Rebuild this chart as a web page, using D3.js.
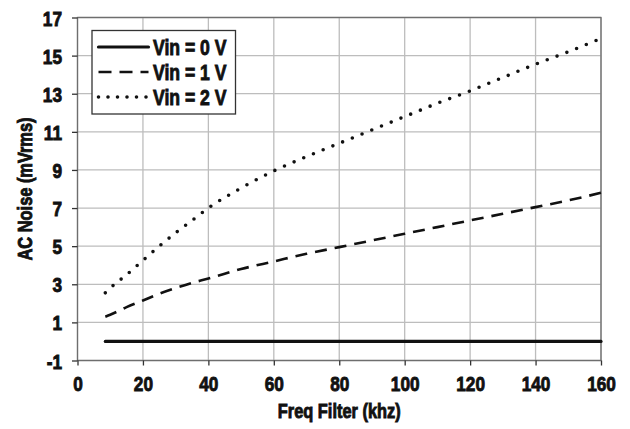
<!DOCTYPE html>
<html>
<head>
<meta charset="utf-8">
<script src="https://cdn.jsdelivr.net/npm/d3@7/dist/d3.min.js"></script>
<style>
  body { margin: 0; background: #fff; }
  svg { display: block; }
  text { font-family: "Liberation Sans", Arial, sans-serif; font-weight: 700; fill: #111; stroke: #111; stroke-width: 0.9px; }
</style>
</head>
<body>
<svg id="chart" width="630" height="429"></svg>
<script>
// values
const freq = [8.5, 10, 15, 20, 25, 30, 35, 40, 50, 60, 70, 80, 90, 100, 110, 120, 130, 140, 150, 160]
const vin0 = [0, 0, 0, 0, 0, 0, 0, 0, 0, 0, 0, 0, 0, 0, 0, 0, 0, 0, 0, 0]
const vin1 = [1.3, 1.4, 1.8, 2.15, 2.5, 2.8, 3.07, 3.3, 3.8, 4.2, 4.6, 4.95, 5.3, 5.65, 6.0, 6.35, 6.7, 7.05, 7.4, 7.8]
const vin2 = [2.55, 2.8, 3.5, 4.25, 5.0, 5.7, 6.35, 7.0, 8.05, 8.95, 9.7, 10.4, 11.1, 11.8, 12.5, 13.15, 13.85, 14.55, 15.2, 15.9]
const seriesNames = ['Vin = 0 V', 'Vin = 1 V', 'Vin = 2 V']
const xTicks = [0, 20, 40, 60, 80, 100, 120, 140, 160]
const yTicks = [-1, 1, 3, 5, 7, 9, 11, 13, 15, 17]

const margin = {top: 17.5, right: 29, bottom: 68.5, left: 77.5},
  width = 630 - margin.left - margin.right,
  height = 429 - margin.top - margin.bottom
const sq = 0.82
const squeeze = `scale(${sq},1)` // narrow the glyphs, the original face is a condensed one

const svg = d3.select('#chart')
const g = svg.append('g').attr('transform', `translate(${margin.left},${margin.top})`)

const x = d3.scaleLinear().domain([0, 160]).range([0, width])
const y = d3.scaleLinear().domain([-1, 17]).range([height, 0])

// grid
g.append('g').selectAll('line').data(xTicks).enter().append('line')
  .attr('x1', d => x(d)).attr('x2', d => x(d)).attr('y1', 0).attr('y2', height)
  .attr('stroke', '#bdbdbd').attr('stroke-width', 1.3)
g.append('g').selectAll('line').data(yTicks).enter().append('line')
  .attr('y1', d => y(d)).attr('y2', d => y(d)).attr('x1', 0).attr('x2', width)
  .attr('stroke', '#bdbdbd').attr('stroke-width', 1.3)

g.append('rect').attr('width', width).attr('height', height)
  .attr('fill', 'none').attr('stroke', '#6e6e6e').attr('stroke-width', 1.3)

// axes
const xAxis = g.append('g').attr('transform', `translate(0,${height})`)
  .call(d3.axisBottom(x).tickValues(xTicks).tickSize(5).tickPadding(11).tickFormat(d => String(d)))
const yAxis = g.append('g')
  .call(d3.axisLeft(y).tickValues(yTicks).tickSize(5.5).tickPadding(10).tickFormat(d => String(d)))
;[xAxis, yAxis].forEach(a => {
  a.select('.domain').remove()
  a.selectAll('line').attr('stroke', '#333').attr('stroke-width', 1.3)
  a.selectAll('text').style('font-size', '21px').attr('fill', '#111').attr('transform', squeeze)
})
xAxis.selectAll('text').attr('dy', '0.71em')
yAxis.selectAll('text').attr('x', -15.5 / sq).attr('dy', '0.36em')

// series
const line = d3.line().curve(d3.curveMonotoneX).x(d => x(d[0])).y(d => y(d[1]))
const styles = [
  {dash: null, width: 3.2, cap: 'round'},
  {dash: '12,8', width: 2.6, cap: 'butt'},
  {dash: '0,10.5', width: 3.6, cap: 'round'}
]
const series = [vin0, vin1, vin2]
series.forEach((vals, i) => {
  g.append('path')
    .datum(freq.map((f, j) => [f, vals[j]]))
    .attr('d', line)
    .attr('fill', 'none')
    .attr('stroke', '#111')
    .attr('stroke-width', styles[i].width)
    .attr('stroke-linecap', styles[i].cap)
    .attr('stroke-dasharray', styles[i].dash)
})

// legend
const legend = svg.append('g').attr('transform', 'translate(92,30.5)')
legend.append('rect').attr('width', 143.5).attr('height', 83.5)
  .attr('fill', '#fff').attr('stroke', '#333').attr('stroke-width', 1.3)
const legendDash = [null, '13,8', '0,9.5']
seriesNames.forEach((name, i) => {
  const ly = 16.5 + i * 25
  legend.append('line').attr('x1', 6.5).attr('x2', 56.5).attr('y1', ly).attr('y2', ly)
    .attr('stroke', '#111')
    .attr('stroke-width', styles[i].width)
    .attr('stroke-linecap', styles[i].cap)
    .attr('stroke-dasharray', legendDash[i])
  legend.append('g').attr('transform', `translate(61,${ly}) scale(0.8,1)`)
    .append('text').attr('dy', '0.36em')
    .style('font-size', '22px').text(name)
})

// axis titles
svg.append('g').attr('transform', `translate(${margin.left + width / 2},418) ${squeeze}`)
  .append('text')
  .attr('text-anchor', 'middle').style('font-size', '20px')
  .text('Freq Filter (khz)')
svg.append('g').attr('transform', `translate(32,${margin.top + height / 2}) rotate(-90) ${squeeze}`)
  .append('text')
  .attr('text-anchor', 'middle').style('font-size', '20px')
  .text('AC Noise (mVrms)')
</script>
</body>
</html>
